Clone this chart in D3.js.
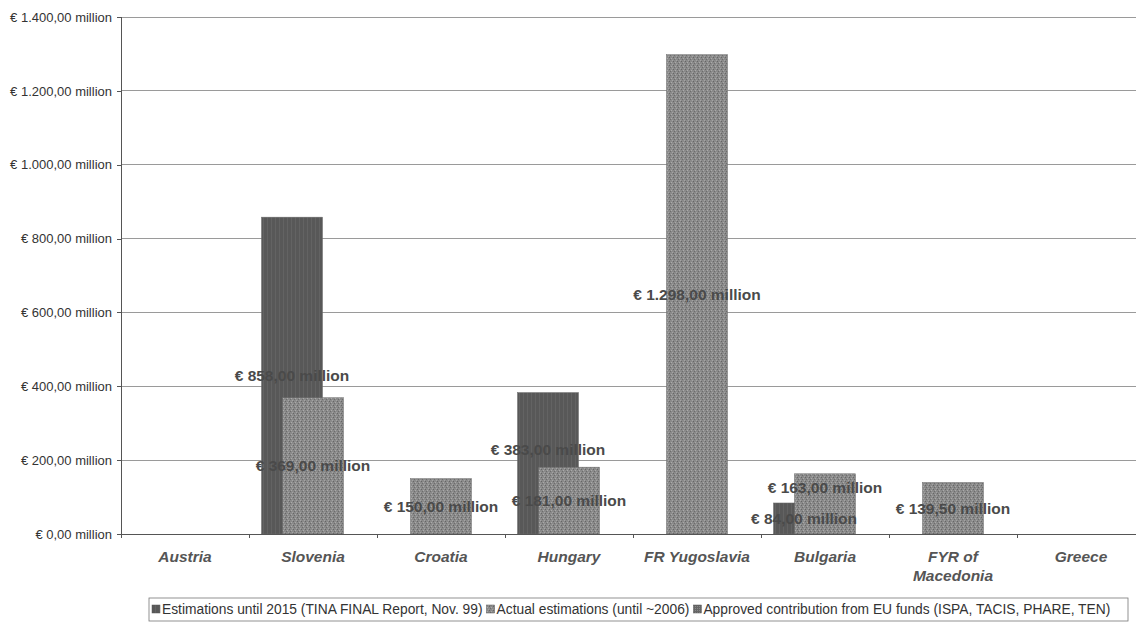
<!DOCTYPE html>
<meta charset="utf-8">
<style>
    body {
        margin: 0;
        background-color: #fff;
    }
    .axis {
        font: 13px "Liberation Sans", Arial, sans-serif;
    }
    .axis path,
    .axis line {
        fill: none;
        stroke: #555;
        stroke-width: 1px;
        shape-rendering: crispEdges;
    }
    .grid line {
        stroke: #9a9a9a;
        stroke-width: 1px;
        shape-rendering: crispEdges;
    }
    .cat-label {
        font: italic bold 15.5px "Liberation Sans", Arial, sans-serif;
        fill: #555;
        text-anchor: middle;
    }
    .bar-label {
        font: bold 15.5px "Liberation Sans", Arial, sans-serif;
        fill: #4a4a4a;
        text-anchor: middle;
    }
    .legend text {
        font: 13.8px "Liberation Sans", Arial, sans-serif;
        fill: #333;
    }
</style>
<body>
<svg width="1136" height="622"></svg>
<script src="https://d3js.org/d3.v7.min.js"></script>
<script>
    // data (values in million €)
    var countries = ["Austria", "Slovenia", "Croatia", "Hungary", "FR Yugoslavia", "Bulgaria", "FYR of|Macedonia", "Greece"];
    var seriesNames = ["Estimations until 2015 (TINA FINAL Report, Nov. 99)",
        "Actual estimations (until ~2006)",
        "Approved contribution from EU funds (ISPA, TACIS, PHARE, TEN)"];
    var estim2015 = [null, 858, null, 383, null, 84, null, null];
    var actualEstim = [null, 369, 150, 181, 1298, 163, 139.5, null];
    var approved = [null, null, null, null, null, null, null, null];
    var yTicks = [0, 200, 400, 600, 800, 1000, 1200, 1400];

    var svg = d3.select("svg"),
        margin = {top: 17, right: -9, bottom: 88, left: 121},
        width = +svg.attr("width") - margin.left - margin.right,
        height = +svg.attr("height") - margin.top - margin.bottom;

    // label nudges (px) where Excel moved labels apart
    var labelNudge = {"0-Hungary": -14, "1-Bulgaria": -16};

    var locale = d3.formatLocale({decimal: ",", thousands: ".", grouping: [3], currency: ["€ ", ""]});
    var fmt = locale.format(",.2f");
    function euro(v) { return "€ " + fmt(v) + " million"; }

    // patterns for the scanned-looking fills
    var defs = svg.append("defs");
    var pDark = defs.append("pattern").attr("id", "pDark")
        .attr("width", 4).attr("height", 2).attr("patternUnits", "userSpaceOnUse");
    pDark.append("rect").attr("width", 4).attr("height", 2).attr("fill", "#585858");
    pDark.append("rect").attr("x", 2).attr("width", 1).attr("height", 2).attr("fill", "#636363");

    var pLight = defs.append("pattern").attr("id", "pLight")
        .attr("width", 4).attr("height", 4).attr("patternUnits", "userSpaceOnUse");
    pLight.append("rect").attr("width", 4).attr("height", 4).attr("fill", "#8a8a8a");
    pLight.append("rect").attr("x", 0).attr("y", 0).attr("width", 1).attr("height", 1).attr("fill", "#666");
    pLight.append("rect").attr("x", 2).attr("y", 1).attr("width", 1).attr("height", 1).attr("fill", "#aaa");
    pLight.append("rect").attr("x", 1).attr("y", 2).attr("width", 1).attr("height", 1).attr("fill", "#6c6c6c");
    pLight.append("rect").attr("x", 3).attr("y", 3).attr("width", 1).attr("height", 1).attr("fill", "#a4a4a4");

    var pMid = defs.append("pattern").attr("id", "pMid")
        .attr("width", 2).attr("height", 2).attr("patternUnits", "userSpaceOnUse");
    pMid.append("rect").attr("width", 2).attr("height", 2).attr("fill", "#666");
    pMid.append("rect").attr("width", 1).attr("height", 1).attr("fill", "#888");

    var fills = ["url(#pDark)", "url(#pLight)", "url(#pMid)"];

    var x = d3.scaleBand().domain(countries).range([0, width]).padding(0);
    var y = d3.scaleLinear().domain([0, 1400]).range([height, 0]);

    var g = svg.append("g")
        .attr("transform", "translate(" + margin.left + "," + margin.top + ")");

    // gridlines
    g.append("g").attr("class", "grid")
        .selectAll("line").data(yTicks.slice(1)).enter().append("line")
        .attr("x1", 0).attr("x2", width + 20)
        .attr("y1", function(d) { return y(d); })
        .attr("y2", function(d) { return y(d); });

    // bars: Excel-like clustered columns with overlap
    var barW = 61, shift = 21;
    var allSeries = [estim2015, actualEstim, approved];
    allSeries.forEach(function(vals, s) {
        g.append("g").selectAll("rect")
            .data(vals.map(function(v, i) { return {c: countries[i], v: v}; }).filter(function(d) { return d.v; }))
            .enter().append("rect")
            .attr("x", function(d) { return x(d.c) + x.bandwidth() / 2 + (s - 1) * shift - barW / 2; })
            .attr("width", barW)
            .attr("y", function(d) { return y(d.v); })
            .attr("height", function(d) { return height - y(d.v); })
            .attr("fill", fills[s])
            .attr("stroke", "#6a6a6a")
            .attr("stroke-width", 0.5);
    });

    // value labels, centred in the bar
    allSeries.forEach(function(vals, s) {
        g.append("g").selectAll("text")
            .data(vals.map(function(v, i) { return {c: countries[i], v: v}; }).filter(function(d) { return d.v; }))
            .enter().append("text")
            .attr("class", "bar-label")
            .attr("x", function(d) { return x(d.c) + x.bandwidth() / 2 + (s - 1) * shift; })
            .attr("y", function(d) { return y(d.v / 2) + (labelNudge[s + "-" + d.c] || 0); })
            .attr("dy", ".35em")
            .text(function(d) { return euro(d.v); });
    });

    // axes
    g.append("g")
        .attr("class", "axis axis--x")
        .attr("transform", "translate(0," + height + ")")
        .call(d3.axisBottom(x).tickSize(4).tickFormat(""))
        .call(function(a) {
            a.selectAll(".tick line").attr("transform", "translate(" + (-x.bandwidth() / 2) + ",0)");
        });

    g.append("g")
        .attr("class", "axis axis--y")
        .call(d3.axisLeft(y).tickValues(yTicks).tickSize(4).tickPadding(5).tickFormat(euro))
        .selectAll("text").attr("fill", "#333");

    // category labels (may wrap)
    g.append("g").selectAll("text")
        .data(countries).enter().append("text")
        .attr("class", "cat-label")
        .attr("x", function(d) { return x(d) + x.bandwidth() / 2; })
        .attr("y", height + 28)
        .each(function(d) {
            var t = d3.select(this);
            d.split("|").forEach(function(part, i) {
                t.append("tspan")
                    .attr("x", x(d) + x.bandwidth() / 2)
                    .attr("dy", i ? 19 : 0)
                    .text(part);
            });
        });

    // legend
    var legend = svg.append("g").attr("class", "legend")
        .attr("transform", "translate(149,598)");
    legend.append("rect")
        .attr("width", 979).attr("height", 23)
        .attr("fill", "none").attr("stroke", "#777").attr("stroke-width", 0.8);
    var lx = 3;
    seriesNames.forEach(function(name, i) {
        legend.append("rect")
            .attr("x", lx).attr("y", 7).attr("width", 8).attr("height", 8)
            .attr("fill", fills[i]).attr("stroke", "#555").attr("stroke-width", 0.5);
        var t = legend.append("text")
            .attr("x", lx + 10).attr("y", 16)
            .text(name);
        lx += 10 + t.node().getComputedTextLength() + 4;
    });
</script>
</body>
